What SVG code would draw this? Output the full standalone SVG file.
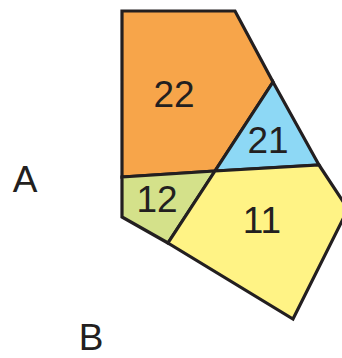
<svg xmlns="http://www.w3.org/2000/svg" width="342" height="358" viewBox="0 0 342 358">
<style>
.r{stroke:#231F20;stroke-width:3.2;stroke-linejoin:miter}
.t{font-family:"Liberation Sans",Arial,sans-serif;font-size:37px;fill:#231F20;text-anchor:middle}
</style>
<rect width="342" height="358" fill="#fff"/>
<g id="r22"><polygon class="r" fill="#F7A54A" points="122,11 235,11 273,82 215,171 122,177"/><text class="t" x="174" y="107">22</text></g>
<g id="r21"><polygon class="r" fill="#8DD8F5" points="273,82 319,165 215,171"/><text class="t" x="268" y="153">21</text></g>
<g id="r12"><polygon class="r" fill="#D4E18A" points="122,177 215,171 168,243 122,217"/><text class="t" x="157" y="212">12</text></g>
<g id="r11"><polygon class="r" fill="#FFF385" points="215,171 319,165 348,209 293,319 168,243"/><text class="t" x="262" y="233">11</text></g>
<g id="labels"><text class="t" x="25" y="192">A</text><text class="t" x="91" y="350">B</text></g>
</svg>
